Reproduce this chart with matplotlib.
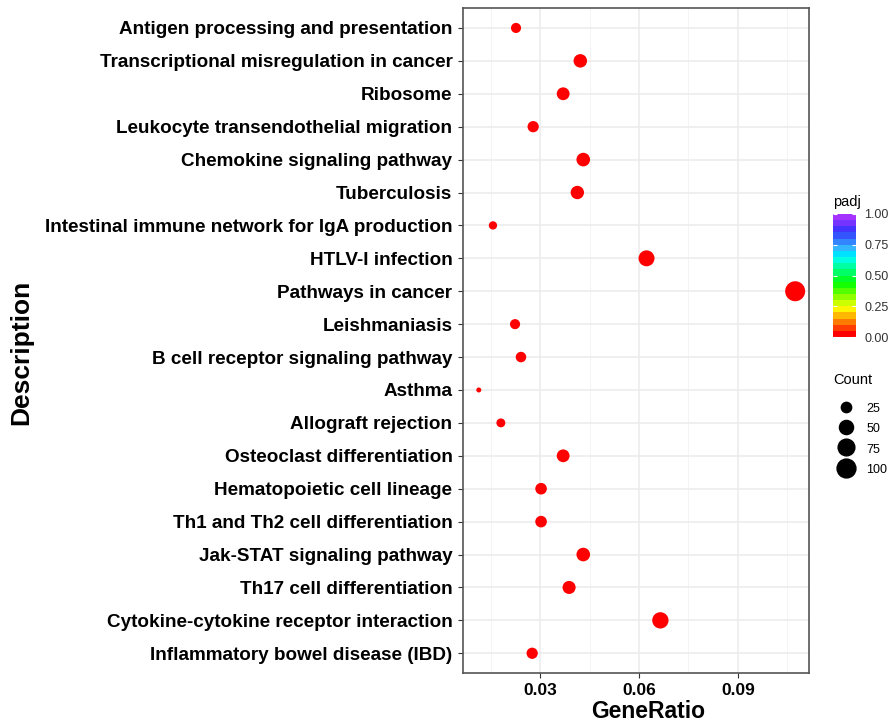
import numpy as np
import matplotlib.pyplot as plt
from matplotlib.colors import ListedColormap, Normalize, hsv_to_rgb
from matplotlib.cm import ScalarMappable
from matplotlib.lines import Line2D

plt.rcParams['font.family'] = ['Liberation Sans', 'DejaVu Sans']

# pathways, top to bottom
terms = [
    "Antigen processing and presentation",
    "Transcriptional misregulation in cancer",
    "Ribosome",
    "Leukocyte transendothelial migration",
    "Chemokine signaling pathway",
    "Tuberculosis",
    "Intestinal immune network for IgA production",
    "HTLV-I infection",
    "Pathways in cancer",
    "Leishmaniasis",
    "B cell receptor signaling pathway",
    "Asthma",
    "Allograft rejection",
    "Osteoclast differentiation",
    "Hematopoietic cell lineage",
    "Th1 and Th2 cell differentiation",
    "Jak-STAT signaling pathway",
    "Th17 cell differentiation",
    "Cytokine-cytokine receptor interaction",
    "Inflammatory bowel disease (IBD)",
]
gene_ratio = [0.0227, 0.0422, 0.0370, 0.0279, 0.0431, 0.0413, 0.0157, 0.0623,
              0.1074, 0.0224, 0.0242, 0.0114, 0.0181, 0.0370, 0.0303, 0.0303,
              0.0431, 0.0388, 0.0665, 0.0276]
counts = [24, 45, 40, 30, 46, 44, 17, 67, 115, 24, 26, 12, 19, 40, 32, 32,
          46, 42, 71, 30]
padj = [0.001, 0.0005, 0.002, 0.001, 0.0005, 0.001, 0.003, 0.0001, 0.0, 0.004,
        0.003, 0.005, 0.004, 0.002, 0.002, 0.002, 0.0005, 0.001, 0.0, 0.002]

# rainbow scale, red (0) -> violet (1), in 20 bands like ggplot's colourbar
hues = np.linspace(0, 0.76, 20)
sats = np.where(hues > 0.55, 0.8, 1.0)
band_cols = hsv_to_rgb(np.column_stack([hues, sats, np.ones(20)]))
cmap = ListedColormap(band_cols)
norm = Normalize(0, 1)

cmin, cmax = min(counts), max(counts)


def size_of(c):
    # ggplot-like area scale, diameter in px -> points^2
    d = 5 + 15 * np.sqrt((c - cmin) / (cmax - cmin))
    return (d * 0.72) ** 2


fig = plt.figure(figsize=(8.9, 7.25), dpi=100)
ax = fig.add_axes([0.520, 0.0717, 0.389, 0.917])

y = np.arange(len(terms))[::-1]
ax.scatter(gene_ratio, y, s=[size_of(c) for c in counts],
           c=cmap(norm(padj)), edgecolors='none', zorder=3)

ax.set_xlim(0.00655, 0.1116)
ax.set_ylim(-0.6, len(terms) - 0.4)
ax.set_xticks([0.03, 0.06, 0.09])
ax.set_xticklabels(["0.03", "0.06", "0.09"])
ax.set_xticks([0.015, 0.045, 0.075, 0.105], minor=True)
ax.set_yticks(y)
ax.set_yticklabels(terms)
ax.grid(True, which='major', color='#ebebeb', lw=1.1, zorder=0)
ax.grid(True, which='minor', axis='x', color='#f2f2f2', lw=0.6, zorder=0)
ax.tick_params(axis='both', which='major', length=3.5, color='#333333',
               labelcolor='black', pad=4)
ax.tick_params(axis='y', labelsize=13.6)
ax.tick_params(axis='x', labelsize=12.5)
ax.tick_params(axis='x', which='minor', length=0)
for lab in ax.get_xticklabels() + ax.get_yticklabels():
    lab.set_fontweight('bold')
for sp in ax.spines.values():
    sp.set_color('#555555')
    sp.set_linewidth(1.2)
ax.set_axisbelow(True)

fig.text(648 / 890, 1 - 712 / 725, "GeneRatio", fontsize=16.5,
         fontweight='bold', ha='center', va='center')
fig.text(0.024, 1 - 352 / 725, "Description", rotation=90, fontsize=19,
         fontweight='bold', ha='center', va='center')

# colour bar
cax = fig.add_axes([833 / 890, 1 - 337 / 725, 23 / 890, 123 / 725])
cb = fig.colorbar(ScalarMappable(norm=norm, cmap=cmap), cax=cax)
cb.set_ticks([0, 0.25, 0.5, 0.75, 1.0])
cb.set_ticklabels(["0.00", "0.25", "0.50", "0.75", "1.00"])
cb.outline.set_visible(False)
cax.tick_params(length=3, color='white', labelsize=9, labelcolor='#333333',
                pad=6, direction='in', left=True)
fig.text(833 / 890, 1 - 202 / 725, "padj", fontsize=10.5, va='center')

# count legend
leg_counts = [25, 50, 75, 100]
handles = [Line2D([], [], marker='o', ls='none', color='black',
                  markersize=np.sqrt(size_of(c))) for c in leg_counts]
leg = fig.legend(handles, [str(c) for c in leg_counts], title="Count",
                 loc='upper left', bbox_to_anchor=(825 / 890, 1 - 364 / 725),
                 frameon=False, fontsize=9, title_fontsize=10.5,
                 labelspacing=0.55, handletextpad=0.6, borderpad=0.2,
                 handleheight=1.1)
leg._legend_box.align = 'left'
leg._legend_box.sep = 11

fig.savefig("out.png", dpi=100)
